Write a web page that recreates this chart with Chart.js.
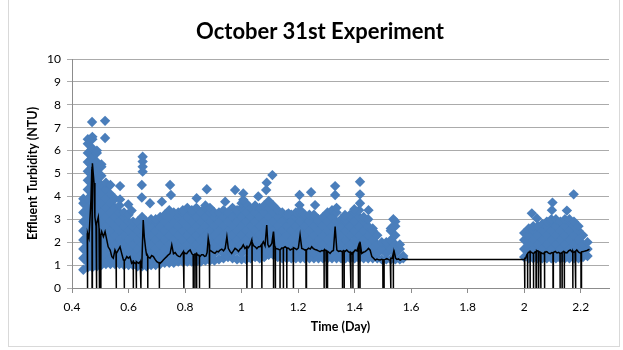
<!DOCTYPE html>
<html lang="en">
<head>
<meta charset="UTF-8">
<title>October 31st Experiment</title>
<style>
  html,body{margin:0;padding:0;background:#fff}
  #wrap{position:relative;width:623px;height:350px}
  #frame{position:absolute;left:8px;top:-1px;width:612px;height:348px;border:1px solid #d9d9d9;box-sizing:border-box;pointer-events:none}
  #title{position:absolute;left:0;top:18px;width:640px;text-align:center;font:bold 22px Lato,"Open Sans",sans-serif;line-height:26px;color:#000}
</style>
</head>
<body>
<div id="wrap">
  <canvas id="chart" width="623" height="350"></canvas>
  <div id="title">October 31st Experiment</div>
  <div id="frame"></div>
</div>
<script src="https://cdn.jsdelivr.net/npm/chart.js"></script>
<script>
// turbidity readings, one column of points per time step (day)
const cloudX = [0.440,0.456,0.472,0.488,0.504,0.520,0.536,0.552,0.568,0.584,0.600,0.616,0.632,0.648,0.664,0.680,0.696,0.712,0.728,0.744,
  0.760,0.776,0.792,0.808,0.824,0.840,0.856,0.872,0.888,0.904,0.920,0.936,0.952,0.968,0.984,1.000,1.016,1.032,1.048,1.064,
  1.080,1.096,1.112,1.128,1.144,1.160,1.176,1.192,1.208,1.224,1.240,1.256,1.272,1.288,1.304,1.320,1.336,1.352,1.368,1.384,
  1.400,1.416,1.432,1.448,1.464,1.480,1.496,1.512,1.528,1.544,1.560,1.572,
  2.000,2.016,2.032,2.048,2.064,2.080,2.096,2.112,2.128,2.144,2.160,2.176,2.192,2.208,2.224]
const cloudY = [
  [0.8,1.3,1.7,2.1,2.5,2.9,3.3,3.7,3.9],
  [0.9,1.1,1.5,1.9,2.3,2.7,3.1,3.5,3.9,4.3,4.7,5.1,5.5,5.9,6.3,6.5],
  [0.9,1.3,1.7,2.1,2.5,2.9,3.3,3.7,4.1,4.5,4.9,5.3,5.7,6.1,6.5,6.6],
  [0.95,1.1,1.5,1.9,2.3,2.7,3.1,3.5,3.9,4.3,4.7,5.1,5.5,5.9,6.0],
  [1.0,1.3,1.7,2.1,2.5,2.9,3.3,3.7,4.1,4.5,4.9,5.3,5.4],
  [1.05,1.1,1.5,1.9,2.3,2.7,3.1,3.5,3.9,4.3,4.6],
  [1.05,1.3,1.7,2.1,2.5,2.9,3.3,3.7,4.1,4.5],
  [1.05,1.1,1.5,1.9,2.3,2.7,3.1,3.5,3.9],
  [1.05,1.3,1.7,2.1,2.5,2.9,3.3,3.6],
  [1.0,1.1,1.5,1.9,2.3,2.7,3.1,3.3],
  [1.0,1.3,1.7,2.1,2.5,2.9,3.2],
  [1.0,1.1,1.5,1.9,2.3,2.7,2.9],
  [0.95,1.3,1.7,2.1,2.5,2.9],
  [0.95,1.1,1.5,1.9,2.3,2.7,3.1],
  [0.95,1.3,1.7,2.1,2.5,2.9],
  [1.0,1.1,1.5,1.9,2.3,2.7,3.0],
  [1.0,1.3,1.7,2.1,2.5,2.9,3.0],
  [1.05,1.1,1.5,1.9,2.3,2.7,3.1],
  [1.1,1.3,1.7,2.1,2.5,2.9,3.2],
  [1.1,1.5,1.9,2.3,2.7,3.1,3.4],
  [1.1,1.3,1.7,2.1,2.5,2.9,3.3],
  [1.15,1.5,1.9,2.3,2.7,3.1,3.3],
  [1.15,1.3,1.7,2.1,2.5,2.9,3.3,3.4],
  [1.15,1.5,1.9,2.3,2.7,3.1,3.5],
  [1.15,1.3,1.7,2.1,2.5,2.9,3.3,3.4],
  [1.15,1.5,1.9,2.3,2.7,3.1,3.5],
  [1.15,1.3,1.7,2.1,2.5,2.9,3.3],
  [1.2,1.5,1.9,2.3,2.7,3.1,3.5,3.6],
  [1.2,1.3,1.7,2.1,2.5,2.9,3.3,3.5],
  [1.2,1.5,1.9,2.3,2.7,3.1,3.3],
  [1.25,1.7,2.1,2.5,2.9,3.3],
  [1.3,1.5,1.9,2.3,2.7,3.1,3.4],
  [1.35,1.7,2.1,2.5,2.9,3.3],
  [1.3,1.5,1.9,2.3,2.7,3.1,3.5],
  [1.25,1.7,2.1,2.5,2.9,3.3,3.4],
  [1.25,1.5,1.9,2.3,2.7,3.1,3.5,3.7],
  [1.25,1.7,2.1,2.5,2.9,3.3,3.7],
  [1.3,1.5,1.9,2.3,2.7,3.1,3.5],
  [1.35,1.7,2.1,2.5,2.9,3.3,3.6],
  [1.3,1.5,1.9,2.3,2.7,3.1,3.5],
  [1.35,1.7,2.1,2.5,2.9,3.3,3.6],
  [1.45,1.5,1.9,2.3,2.7,3.1,3.5,3.8],
  [1.45,1.7,2.1,2.5,2.9,3.3,3.6],
  [1.35,1.5,1.9,2.3,2.7,3.1,3.4],
  [1.3,1.7,2.1,2.5,2.9,3.3],
  [1.3,1.5,1.9,2.3,2.7,3.1,3.2],
  [1.3,1.7,2.1,2.5,2.9,3.2],
  [1.3,1.5,1.9,2.3,2.7,3.1,3.3],
  [1.3,1.7,2.1,2.5,2.9,3.3,3.4],
  [1.3,1.5,1.9,2.3,2.7,3.1,3.2],
  [1.3,1.7,2.1,2.5,2.9,3.2],
  [1.3,1.5,1.9,2.3,2.7,3.1,3.2],
  [1.3,1.7,2.1,2.5,2.9,3.0],
  [1.3,1.5,1.9,2.3,2.7,3.1],
  [1.3,1.7,2.1,2.5,2.9,3.3],
  [1.3,1.5,1.9,2.3,2.7,3.1,3.4],
  [1.3,1.7,2.1,2.5,2.9,3.3,3.5],
  [1.3,1.5,1.9,2.3,2.7,3.0],
  [1.3,1.7,2.1,2.5,2.9,3.0],
  [1.3,1.5,1.9,2.3,2.7,3.1,3.2],
  [1.3,1.7,2.1,2.5,2.9,3.3],
  [1.3,1.5,1.9,2.3,2.7,3.1,3.4],
  [1.3,1.7,2.1,2.5,2.9,3.1],
  [1.3,1.5,1.9,2.3,2.7,3.0],
  [1.3,1.7,2.1,2.5,2.6],
  [1.3,1.5,1.9,2.3],
  [1.25,1.7,2.0],
  [1.25,1.5,1.9,2.0],
  [1.25,1.7,2.1,2.5,2.6],
  [1.25,1.5,1.9,2.3,2.7,2.9],
  [1.25,1.7,1.9],
  [1.3,1.4],
  [1.35,1.7,2.1,2.4],
  [1.3,1.5,1.9,2.3,2.6],
  [1.3,1.7,2.1,2.5,2.7],
  [1.3,1.5,1.9,2.3,2.7],
  [1.3,1.7,2.1,2.5,2.8],
  [1.3,1.5,1.9,2.3,2.7,2.9],
  [1.3,1.7,2.1,2.5,2.9,3.0],
  [1.3,1.5,1.9,2.3,2.7,3.0],
  [1.3,1.7,2.1,2.5,2.9],
  [1.3,1.5,1.9,2.3,2.7,3.0],
  [1.3,1.7,2.1,2.5,2.9,3.0],
  [1.3,1.5,1.9,2.3,2.7,2.9],
  [1.3,1.7,2.1,2.5,2.7],
  [1.35,1.5,1.9,2.3],
  [1.4,1.7,2.0]
]

// isolated high readings
const outlierX = [0.471,0.517,0.517,0.570,0.570,0.599,0.611,0.650,0.650,0.650,0.650,0.647,0.647,0.676,0.718,0.747,0.750,
  0.841,0.877,0.942,0.977,1.006,1.006,1.059,1.087,1.089,1.109,1.166,1.205,1.205,1.246,1.260,1.331,1.331,1.366,1.399,
  1.419,1.419,1.419,1.449,1.537,1.537,2.027,2.045,2.100,2.098,2.151,2.175]
const outlierY = [7.25,7.3,6.55,4.45,3.87,3.65,3.38,5.73,5.52,5.3,5.08,4.5,3.95,3.7,3.77,4.5,4.06,
  3.92,4.31,3.77,4.28,4.13,3.85,4.0,4.28,4.6,4.93,3.26,4.06,3.62,4.18,3.62,4.45,4.06,3.19,3.44,
  4.64,4.09,3.7,3.4,3.0,2.7,3.26,3.04,3.73,3.4,3.38,4.09]

// black trace
const traceX = [0.454,0.460,0.467,0.470,0.473,0.478,0.481,0.485,0.493,0.499,0.505,0.511,0.517,0.523,0.528,0.535,0.541,0.546,
  0.552,0.558,0.564,0.570,0.576,0.582,0.588,0.594,0.599,0.605,0.611,0.617,0.623,0.629,0.635,0.641,0.647,0.652,0.656,0.661,
  0.664,0.670,0.676,0.682,0.688,0.694,0.700,0.706,0.712,0.718,0.723,0.729,0.735,0.741,0.747,0.753,0.759,0.765,0.771,0.777,
  0.782,0.788,0.794,0.800,0.806,0.812,0.818,0.824,0.829,0.835,0.841,0.847,0.853,0.858,0.864,0.869,0.874,0.878,
  0.882,0.888,0.894,0.900,0.906,0.912,0.918,0.924,0.930,0.936,0.942,0.948,0.953,0.959,0.965,0.971,0.977,0.983,0.989,0.995,
  1.000,1.006,1.012,1.018,1.024,1.030,1.036,1.042,1.048,1.054,1.060,1.065,1.071,1.077,1.083,1.089,1.093,1.097,1.102,1.107,
  1.113,1.117,1.121,1.128,1.136,1.142,1.148,1.154,1.160,1.166,1.172,1.178,1.184,1.189,1.195,1.201,1.207,1.213,1.219,1.225,
  1.231,1.237,1.243,1.248,1.254,1.260,1.266,1.272,1.278,1.284,1.290,1.296,1.302,1.308,1.313,1.319,1.325,1.331,1.337,1.343,
  1.349,1.355,1.361,1.367,1.372,1.378,1.384,1.390,1.396,1.402,1.408,1.414,1.419,1.425,1.431,1.437,1.443,1.449,1.455,1.461,
  1.467,1.473,1.479,1.485,1.490,1.496,1.502,1.508,1.514,1.520,1.526,1.533,1.540,1.545,1.549,1.555,1.561,1.570,1.579,
  2.001,2.005,2.009,2.015,2.021,2.027,2.033,2.039,2.045,2.051,2.057,2.063,2.068,2.074,2.080,2.086,2.092,2.098,2.104,2.110,
  2.116,2.122,2.127,2.133,2.139,2.145,2.151,2.157,2.163,2.169,2.174,2.180,2.186,2.192,2.198,2.204,2.210,2.216,2.222,2.231]
const traceY = [2.39,2.18,3.84,5.15,5.45,4.58,3.1,2.7,3.1,2.1,2.46,2.24,2.46,2.1,1.8,1.66,1.37,1.3,
  1.66,1.5,1.66,1.8,1.5,1.22,1.22,1.37,1.3,1.37,1.08,1.15,1.08,1.15,1.08,1.15,1.0,2.97,2.2,1.66,
  1.44,1.35,1.3,1.42,1.37,1.25,1.15,1.1,1.08,1.15,1.22,1.3,1.37,1.45,1.5,1.88,1.5,1.55,1.44,1.38,
  1.37,1.48,1.59,1.52,1.5,1.6,1.66,1.5,1.44,1.52,1.5,1.42,1.37,1.45,1.45,1.38,1.4,1.55,
  2.17,1.66,1.6,1.55,1.51,1.6,1.58,1.66,1.7,1.62,1.73,2.24,1.73,1.6,1.51,1.62,1.73,1.68,1.59,1.7,
  1.75,1.88,1.73,1.8,1.76,1.88,2.1,1.85,1.8,1.72,1.8,1.8,1.9,2.02,1.85,2.75,1.9,1.8,1.85,1.95,
  2.46,1.85,1.73,1.7,1.66,1.75,1.72,1.8,1.7,1.74,1.66,1.7,1.76,1.73,1.68,1.75,2.31,1.73,1.7,1.65,
  1.66,1.74,1.7,1.8,1.72,1.68,1.66,1.62,1.59,1.64,1.62,1.66,1.6,1.57,1.51,1.6,1.64,2.68,1.66,1.6,
  1.62,1.59,1.63,1.6,1.66,1.58,1.55,1.51,1.56,1.66,1.62,1.7,2.02,1.51,1.56,1.59,1.65,1.73,1.65,1.37,
  1.3,1.22,1.26,1.23,1.22,1.25,1.22,1.25,1.28,1.24,1.22,1.3,1.59,1.3,1.25,1.27,1.22,1.27,1.25,
  1.25,1.3,1.45,1.55,1.59,1.54,1.5,1.58,1.64,1.58,1.55,1.52,1.5,1.56,1.59,1.52,1.5,1.55,1.55,1.6,
  1.53,1.56,1.5,1.54,1.59,1.55,1.53,1.62,1.66,1.58,1.55,1.6,1.66,1.57,1.53,1.58,1.59,1.62,1.64,1.69]

// zero readings (sensor drop-outs) and the level the trace falls from
const dropX = [0.455,0.471,0.487,0.496,0.502,0.556,0.585,0.617,0.627,0.644,0.668,0.709,0.796,0.829,0.835,0.841,0.851,0.886,
  1.019,1.037,1.072,1.113,1.119,1.136,1.148,1.160,1.183,1.228,1.292,1.299,1.304,1.357,1.363,1.387,1.394,1.413,1.419,
  1.500,1.504,1.528,1.537,2.002,2.012,2.021,2.033,2.042,2.051,2.059,2.072,2.102,2.127,2.134,2.142,2.172,2.182,2.201]
const dropLevel = [2.4,5.3,2.8,2.6,2.3,1.55,1.22,1.15,1.1,1.1,1.4,1.1,1.55,1.44,1.47,1.5,1.4,1.9,
  1.8,2.0,1.9,2.46,1.8,1.66,1.75,1.75,1.7,1.7,1.65,1.65,1.6,1.6,1.62,1.55,1.55,1.8,2.0,
  1.23,1.24,1.3,1.5,1.3,1.5,1.59,1.5,1.6,1.6,1.55,1.55,1.53,1.5,1.55,1.58,1.6,1.6,1.55]

const cloudPts = []
cloudX.forEach((x, i) => cloudY[i].forEach(y => cloudPts.push({x: x, y: y})))
outlierX.forEach((x, i) => cloudPts.push({x: x, y: outlierY[i]}))

const tracePts = traceX.map((x, i) => ({x: x, y: traceY[i]}))
dropX.forEach((x, i) => {
  tracePts.push({x: x - 0.0003, y: dropLevel[i]})
  tracePts.push({x: x, y: 0})
  tracePts.push({x: x + 0.0003, y: dropLevel[i]})
})
tracePts.sort((a, b) => a.x - b.x)

const fontFam = 'Lato, "Open Sans", sans-serif'

new Chart(document.getElementById('chart'), {
  type: 'scatter',
  data: {
    datasets: [
      {
        label: 'Trace',
        data: tracePts,
        showLine: true,
        borderColor: '#000000',
        borderWidth: 1.5,
        pointRadius: 0,
        tension: 0,
        order: 0
      },
      {
        label: 'Effluent Turbidity',
        data: cloudPts,
        pointStyle: 'rectRot',
        pointRadius: 5.2,
        pointBorderWidth: 0,
        backgroundColor: '#4A7EBB',
        borderColor: '#4A7EBB',
        order: 1
      }
    ]
  },
  options: {
    responsive: false,
    animation: false,
    events: [],
    layout: {padding: {left: 0, right: 14, top: 59, bottom: 0}},
    plugins: {
      legend: {display: false},
      tooltip: {enabled: false},
      title: {display: false}
    },
    scales: {
      x: {
        type: 'linear',
        min: 0.4,
        max: 2.3,
        afterFit: s => { s.height = 62 },
        border: {color: '#8c8c8c', width: 1},
        grid: {display: true, drawOnChartArea: false, drawTicks: true, tickLength: 5, color: '#8c8c8c'},
        ticks: {
          stepSize: 0.2,
          includeBounds: false,
          padding: 7,
          color: '#000',
          font: {family: fontFam, size: 12},
          maxRotation: 0,
          callback: v => String(+v.toFixed(1))
        },
        title: {
          display: true,
          text: 'Time (Day)',
          color: '#000',
          font: {family: fontFam, size: 12.5, weight: 'bold'},
          padding: {top: 0, bottom: 16}
        }
      },
      y: {
        type: 'linear',
        min: 0,
        max: 10,
        afterFit: s => { s.width = 72 },
        border: {color: '#8c8c8c', width: 1},
        grid: {color: '#ababab', lineWidth: 1, tickLength: 5, drawTicks: true},
        ticks: {
          stepSize: 1,
          padding: 6,
          color: '#000',
          font: {family: fontFam, size: 12}
        },
        title: {
          display: true,
          text: 'Effluent Turbidity (NTU)',
          color: '#000',
          font: {family: fontFam, size: 12.5, weight: 'bold'},
          padding: {top: 25, bottom: 0}
        }
      }
    }
  }
})
</script>
</body>
</html>
